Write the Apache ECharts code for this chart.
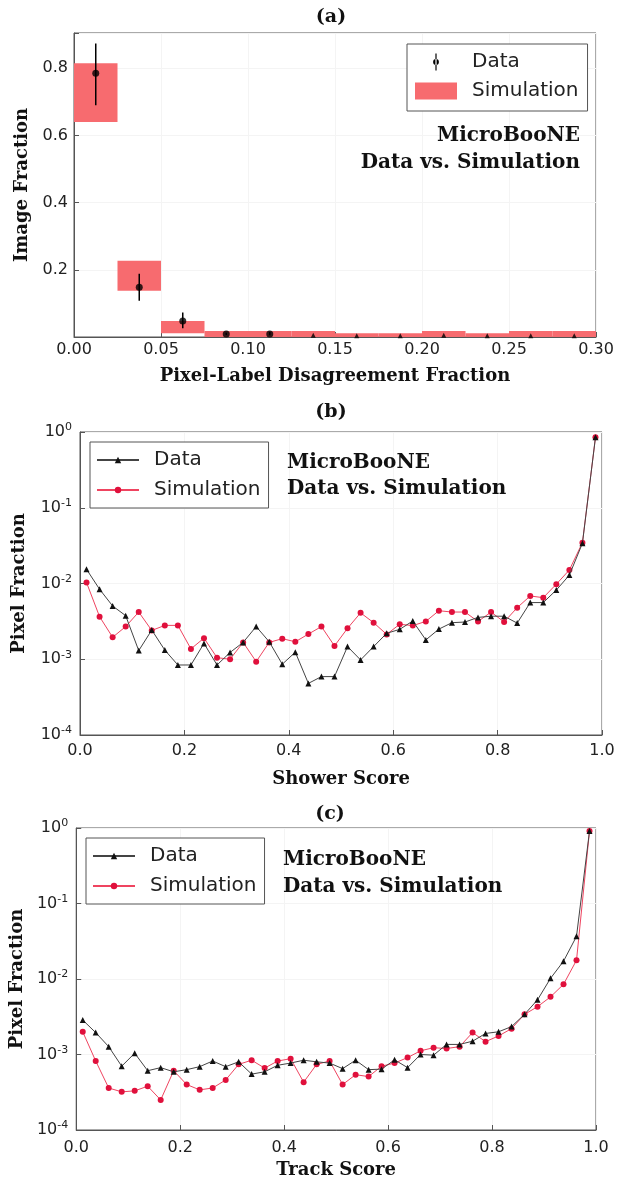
<!DOCTYPE html>
<html>
<head>
<meta charset="utf-8">
<script src="https://cdn.jsdelivr.net/npm/echarts@6/dist/echarts.min.js"></script>
<style>html,body{margin:0;padding:0;background:#fff}#chart{width:626px;height:1180px}</style>
</head>
<body>
<div id="chart"></div>
<script>
// ---------- Panel (a) ----------
const binLoA  = [0, 0.025, 0.05, 0.075, 0.1, 0.125, 0.15, 0.175, 0.2, 0.225, 0.25, 0.275];
const binHiA  = [0.025, 0.05, 0.075, 0.1, 0.125, 0.15, 0.175, 0.2, 0.225, 0.25, 0.275, 0.3];
const binMidA = [0.0125, 0.0375, 0.0625, 0.0875, 0.1125, 0.1375, 0.1625, 0.1875, 0.2125, 0.2375, 0.2625, 0.2875];
const dataA   = [0.785, 0.148, 0.048, 0.009, 0.009, 0.005, 0.004, 0.004, 0.005, 0.004, 0.004, 0.004];
const dataErrLoA = [0.690, 0.108, 0.026, 0.006, 0.005, 0.005, 0.004, 0.004, 0.005, 0.004, 0.004, 0.004];
const dataErrHiA = [0.874, 0.188, 0.073, 0.013, 0.015, 0.005, 0.004, 0.004, 0.005, 0.004, 0.004, 0.004];
const simLoA  = [0.640, 0.138, 0.011, 0, 0, 0, 0, 0, 0, 0, 0, 0];
const simHiA  = [0.815, 0.227, 0.048, 0.018, 0.018, 0.018, 0.011, 0.011, 0.018, 0.011, 0.018, 0.018];

// ---------- Panels (b), (c): bin centres ----------
const binMid = [0.0125,0.0375,0.0625,0.0875,0.1125,0.1375,0.1625,0.1875,0.2125,0.2375,
  0.2625,0.2875,0.3125,0.3375,0.3625,0.3875,0.4125,0.4375,0.4625,0.4875,
  0.5125,0.5375,0.5625,0.5875,0.6125,0.6375,0.6625,0.6875,0.7125,0.7375,
  0.7625,0.7875,0.8125,0.8375,0.8625,0.8875,0.9125,0.9375,0.9625,0.9875];

// ---------- Panel (b): shower score ----------
const showerData = [0.0154,0.0084,0.00505,0.00376,0.0013,0.00243,0.00132,0.00084,0.00084,0.00162,
  0.00084,0.00123,0.00167,0.0027,0.0017,0.00086,0.00124,0.00048,0.00059,0.00059,
  0.00147,0.00098,0.00147,0.0022,0.00248,0.0032,0.0018,0.0025,0.00304,0.0031,
  0.00357,0.0037,0.0037,0.0030,0.0056,0.0056,0.0082,0.0129,0.034,0.85];
const showerSim = [0.0103,0.00365,0.00195,0.0027,0.0042,0.0024,0.0028,0.0028,0.00137,0.0019,
  0.00105,0.0010,0.00167,0.00093,0.00167,0.00187,0.0017,0.00215,0.0027,0.0015,
  0.00256,0.0041,0.00304,0.00213,0.0029,0.00278,0.00316,0.00437,0.0042,0.0042,
  0.00315,0.0042,0.0031,0.0048,0.00684,0.0065,0.0098,0.0151,0.0346,0.85];

// ---------- Panel (c): track score ----------
const trackData = [0.00286,0.00195,0.00127,0.00070,0.00104,0.00061,0.00067,0.00059,0.00063,0.00069,
  0.00082,0.00069,0.0008,0.00055,0.00059,0.00072,0.00077,0.00084,0.0008,0.00077,
  0.00065,0.00084,0.00063,0.00064,0.00085,0.00067,0.001,0.00098,0.00136,0.00136,
  0.0015,0.0019,0.002,0.00234,0.0034,0.0053,0.0102,0.0172,0.0367,0.91];
const trackSim = [0.002,0.00082,0.00036,0.00032,0.00033,0.00038,0.00025,0.00061,0.0004,0.00034,
  0.00036,0.00046,0.00074,0.00084,0.00066,0.00082,0.00088,0.00043,0.00074,0.00082,
  0.0004,0.00054,0.00051,0.0007,0.00077,0.00091,0.00112,0.00123,0.0012,0.00127,
  0.00195,0.00148,0.00176,0.0022,0.0034,0.0043,0.0058,0.0085,0.0177,0.91];

const xTicksA = [0, 0.05, 0.10, 0.15, 0.20, 0.25, 0.30];
const yTicksA = [0.2, 0.4, 0.6, 0.8];

const SANS = 'DejaVu Sans';
const SERIF = 'DejaVu Serif';
const FRAME = '#555';
const RED_BOX = '#f76b6f';
const RED_LINE = '#ef4460';
const RED_PT = '#e0103c';
const BLK_LINE = '#444';

const zip = (xs, ys) => xs.map((x, i) => [x, ys[i]]);

const chart = echarts.init(document.getElementById('chart'), null, {renderer: 'canvas'});

function valueAxisCommon() {
  return {
    axisLine: {show: true, lineStyle: {color: FRAME, width: 1}},
    axisTick: {show: true, inside: true, length: 5, lineStyle: {color: FRAME}},
    splitLine: {show: true, lineStyle: {color: '#f4f4f4', width: 1}},
    axisLabel: {fontFamily: SANS, fontSize: 16, color: '#222'},
    nameTextStyle: {fontFamily: SERIF, fontWeight: 'bold', fontSize: 18, color: '#111'}
  };
}

function logYAxis(gridIndex, nameGap) {
  const c = valueAxisCommon();
  return Object.assign(c, {
    type: 'log', logBase: 10, gridIndex, min: 1e-4, max: 1,
    name: 'Pixel Fraction', nameLocation: 'middle', nameGap, nameRotate: 90,
    axisLabel: {
      margin: 8,
      formatter: v => '{b|10}{s|' + Math.round(Math.log10(v)) + '}',
      rich: {
        b: {fontFamily: SANS, fontSize: 16, color: '#222', lineHeight: 20},
        s: {fontFamily: SANS, fontSize: 11, color: '#222', verticalAlign: 'top', lineHeight: 12}
      }
    }
  });
}

function unitXAxis(gridIndex, name, nameGap, margin) {
  const c = valueAxisCommon();
  return Object.assign(c, {
    type: 'value', gridIndex, min: 0, max: 1, interval: 0.2,
    name, nameLocation: 'middle', nameGap,
    axisLabel: {fontFamily: SANS, fontSize: 16, color: '#222', margin, formatter: v => v.toFixed(1)}
  });
}

const legendText = {fontFamily: SANS, fontSize: 20, color: '#222', lineHeight: 20, padding: [0, 0, 0, 10]};

function txt(x, y, text, size, align) {
  return {type: 'text', x, y, z: 100, zlevel: 0,
    style: {text, font: 'bold ' + size + 'px "DejaVu Serif"', fill: '#111', textAlign: align, textVerticalAlign: 'middle'}};
}

const option = {
  animation: false,
  backgroundColor: '#fff',
  grid: [
    {left: 74, top: 33, width: 522, height: 304, show: true, borderColor: FRAME, borderWidth: 1, backgroundColor: 'transparent'},
    {left: 80, top: 432, width: 522, height: 303, show: true, borderColor: FRAME, borderWidth: 1, backgroundColor: 'transparent'},
    {left: 76, top: 828, width: 520, height: 303, show: true, borderColor: FRAME, borderWidth: 1, backgroundColor: 'transparent'}
  ],
  xAxis: [
    Object.assign(valueAxisCommon(), {
      type: 'value', gridIndex: 0, min: xTicksA[0], max: xTicksA[xTicksA.length - 1], interval: 0.05,
      name: 'Pixel-Label Disagreement Fraction', nameLocation: 'middle', nameGap: 30,
      axisLabel: {fontFamily: SANS, fontSize: 16, color: '#222', margin: 5, formatter: v => v.toFixed(2)}
    }),
    unitXAxis(1, 'Shower Score', 35, 8),
    unitXAxis(2, 'Track Score', 31, 10)
  ],
  yAxis: [
    Object.assign(valueAxisCommon(), {
      type: 'value', gridIndex: 0, min: 0, max: 0.905, interval: 0.2,
      name: 'Image Fraction', nameLocation: 'middle', nameGap: 40, nameRotate: 90,
      axisLabel: {fontFamily: SANS, fontSize: 16, color: '#222', margin: 6,
        formatter: v => yTicksA.some(t => Math.abs(t - v) < 1e-6) ? v.toFixed(1) : ''}
    }),
    logYAxis(1, 52),
    logYAxis(2, 48)
  ],
  legend: [
    {
      left: 407, top: 44, orient: 'vertical', selectedMode: false,
      padding: [8, 9, 10, 8], itemWidth: 42, itemHeight: 17, itemGap: 9,
      backgroundColor: '#fff', borderColor: FRAME, borderWidth: 1,
      textStyle: legendText,
      data: [
        {name: 'Data', icon: 'path://M4.3,0h1.4v20h-1.4zM1.6,10a3.4,3.4 0 1,0 6.8,0a3.4,3.4 0 1,0 -6.8,0z'},
        {name: 'Simulation', icon: 'rect'}
      ]
    },
    {
      left: 90, top: 442, orient: 'vertical', selectedMode: false,
      padding: [8, 8, 8, 6], itemWidth: 42, itemHeight: 8, itemGap: 10,
      backgroundColor: '#fff', borderColor: FRAME, borderWidth: 1,
      textStyle: legendText, formatter: n => n.trim(),
      data: ['Data ', 'Simulation ']
    },
    {
      left: 86, top: 838, orient: 'vertical', selectedMode: false,
      padding: [8, 8, 8, 6], itemWidth: 42, itemHeight: 8, itemGap: 10,
      backgroundColor: '#fff', borderColor: FRAME, borderWidth: 1,
      textStyle: legendText, formatter: n => n.trim(),
      data: ['Data  ', 'Simulation  ']
    }
  ],
  graphic: {
    elements: [
      txt(331, 17, '(a)', 19, 'center'),
      txt(331, 412, '(b)', 19, 'center'),
      txt(330, 814, '(c)', 19, 'center'),
      txt(580, 136, 'MicroBooNE', 20, 'right'),
      txt(580, 163, 'Data vs. Simulation', 20, 'right'),
      txt(287, 463, 'MicroBooNE', 20, 'left'),
      txt(287, 489, 'Data vs. Simulation', 20, 'left'),
      txt(283, 860, 'MicroBooNE', 20, 'left'),
      txt(283, 887, 'Data vs. Simulation', 20, 'left')
    ]
  },
  series: [
    {
      name: 'Simulation', type: 'custom', xAxisIndex: 0, yAxisIndex: 0,
      itemStyle: {color: RED_BOX},
      encode: {x: [0, 1], y: [2, 3]},
      data: binLoA.map((lo, i) => [lo, binHiA[i], simLoA[i], simHiA[i]]),
      renderItem: (params, api) => {
        const p0 = api.coord([api.value(0), api.value(3)]);
        const p1 = api.coord([api.value(1), api.value(2)]);
        return {type: 'rect', shape: {x: p0[0], y: p0[1], width: p1[0] - p0[0], height: p1[1] - p0[1]},
          style: {fill: RED_BOX}};
      },
      z: 1
    },
    {
      name: 'Data', type: 'custom', xAxisIndex: 0, yAxisIndex: 0,
      itemStyle: {color: '#000'},
      encode: {x: 0, y: [1, 2]},
      data: binMidA.map((x, i) => [x, dataErrLoA[i], dataErrHiA[i]]),
      renderItem: (params, api) => {
        const a = api.coord([api.value(0), api.value(1)]);
        const b = api.coord([api.value(0), api.value(2)]);
        return {type: 'line', shape: {x1: a[0], y1: a[1], x2: b[0], y2: b[1]}, style: {stroke: '#000', lineWidth: 1.5}};
      },
      z: 3
    },
    {
      name: 'Data', type: 'scatter', xAxisIndex: 0, yAxisIndex: 0,
      itemStyle: {color: '#000'},
      symbol: (v, p) => p.dataIndex < 5 ? 'circle' : 'triangle',
      symbolSize: (v, p) => p.dataIndex < 5 ? 7 : 5,
      data: zip(binMidA, dataA),
      z: 4
    },
    {
      name: 'Data ', type: 'line', xAxisIndex: 1, yAxisIndex: 1,
      data: zip(binMid, showerData),
      symbol: 'triangle', symbolSize: 6, showAllSymbol: true,
      itemStyle: {color: '#111'}, lineStyle: {color: BLK_LINE, width: 1}, z: 3
    },
    {
      name: 'Simulation ', type: 'line', xAxisIndex: 1, yAxisIndex: 1,
      data: zip(binMid, showerSim),
      symbol: 'circle', symbolSize: 6, showAllSymbol: true,
      itemStyle: {color: RED_PT}, lineStyle: {color: RED_LINE, width: 1}, z: 2
    },
    {
      name: 'Data  ', type: 'line', xAxisIndex: 2, yAxisIndex: 2,
      data: zip(binMid, trackData),
      symbol: 'triangle', symbolSize: 6, showAllSymbol: true,
      itemStyle: {color: '#111'}, lineStyle: {color: BLK_LINE, width: 1}, z: 3
    },
    {
      name: 'Simulation  ', type: 'line', xAxisIndex: 2, yAxisIndex: 2,
      data: zip(binMid, trackSim),
      symbol: 'circle', symbolSize: 6, showAllSymbol: true,
      itemStyle: {color: RED_PT}, lineStyle: {color: RED_LINE, width: 1}, z: 2
    }
  ]
};
chart.setOption(option);
</script>
</body>
</html>
